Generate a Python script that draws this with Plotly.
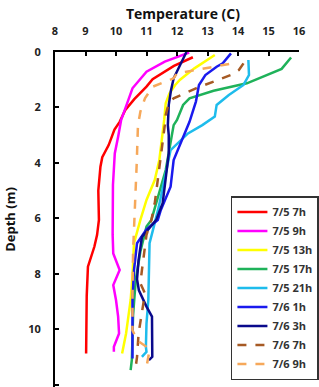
import plotly.graph_objects as go

names = ["7/5 7h", "7/5 9h", "7/5 13h", "7/5 17h", "7/5 21h", "7/6 1h", "7/6 3h", "7/6 7h", "7/6 9h"]

t_0705_07 = [12.52, 11.9, 11.2, 11.0, 10.6, 10.3, 10.12, 9.95, 9.76, 9.55, 9.49, 9.42, 9.44, 9.38, 9.29, 9.08, 9.04, 9.03, 9.02]
d_0705_07 = [0.19, 0.5, 0.98, 1.25, 1.7, 2.1, 2.52, 2.8, 3.36, 3.8, 4.14, 5.0, 6.06, 6.6, 7.03, 7.75, 8.8, 10.0, 10.88]

t_0705_09 = [12.4, 11.6, 11.0, 10.54, 10.35, 10.17, 10.07, 9.96, 9.9, 9.89, 9.89, 9.91, 10.12, 9.91, 10.0, 10.07, 10.1, 9.93, 9.93]
d_0705_09 = [0.02, 0.35, 0.71, 1.31, 1.9, 2.45, 3.06, 3.66, 4.8, 6.06, 6.6, 7.27, 7.87, 8.41, 8.95, 9.55, 10.16, 10.64, 10.82]

t_0705_13 = [13.24, 12.57, 12.1, 11.94, 11.75, 11.63, 11.58, 11.42, 11.27, 11.0, 10.8, 10.59, 10.54, 10.48, 10.33, 10.2]
d_0705_13 = [0.11, 0.59, 1.0, 1.19, 1.5, 1.85, 2.45, 3.9, 4.62, 5.34, 6.06, 6.9, 8.1, 8.95, 10.16, 10.88]

t_0705_17 = [15.74, 15.43, 14.29, 13.2, 12.41, 12.2, 12.0, 11.89, 11.63, 11.32, 11.16, 11.0, 10.8, 10.65, 10.56, 10.52, 10.48]
d_0705_17 = [0.2, 0.61, 1.13, 1.4, 1.67, 1.91, 2.45, 2.64, 4.26, 5.46, 6.06, 6.3, 7.2, 8.2, 9.5, 11.1, 11.48]

t_0705_21 = [14.34, 14.36, 14.18, 13.7, 13.3, 13.24, 12.83, 12.36, 11.79, 11.6, 11.4, 11.21, 11.1, 11.06, 11.0, 10.98, 11.0, 10.9, 10.85]
d_0705_21 = [0.29, 0.83, 1.19, 1.55, 1.91, 2.33, 2.64, 2.94, 3.54, 4.5, 5.6, 6.43, 6.9, 8.95, 9.8, 10.64, 10.82, 10.94, 11.0]

t_0706_01 = [13.77, 13.5, 13.3, 12.93, 12.72, 12.62, 12.41, 12.15, 11.89, 11.79, 11.47, 11.37, 11.0, 10.69, 10.59, 10.54, 10.54, 10.54]
d_0706_01 = [0.05, 0.41, 0.53, 0.83, 1.19, 1.79, 2.52, 3.18, 3.9, 4.86, 5.7, 6.06, 6.4, 6.9, 7.87, 8.95, 10.0, 11.06]

t_0706_03 = [12.31, 12.1, 11.89, 11.8, 11.73, 11.7, 11.73, 11.73, 11.63, 11.53, 11.32, 10.85, 10.74, 10.69, 10.75, 11.0, 11.18, 11.19, 11.19, 11.08]
d_0706_03 = [0.0, 0.47, 0.95, 1.4, 1.91, 2.64, 3.0, 3.66, 4.62, 5.46, 6.06, 6.67, 7.51, 8.2, 8.6, 9.19, 9.55, 10.2, 11.0, 11.12]

t_0706_07 = [14.18, 14.03, 13.77, 13.35, 12.62, 11.89, 11.73, 11.63, 11.6, 11.5, 11.27, 11.16, 11.0, 10.85, 10.8, 10.95, 10.85, 10.74, 10.69, 10.64]
d_0706_07 = [0.41, 0.65, 0.83, 1.01, 1.31, 1.67, 1.85, 2.27, 2.64, 3.5, 5.46, 6.06, 6.6, 7.87, 8.35, 8.71, 9.43, 10.16, 11.0, 11.42]

t_0706_09 = [13.71, 13.35, 12.62, 12.0, 11.89, 11.21, 10.95, 10.8, 10.72, 10.68, 10.59, 10.56, 10.54, 10.54, 10.54, 10.69, 11.0, 11.1, 11.04, 11.0]
d_0706_09 = [0.43, 0.51, 0.65, 0.77, 0.95, 1.25, 1.67, 2.15, 2.64, 4.0, 6.06, 7.2, 8.95, 9.43, 10.04, 10.4, 10.64, 10.76, 11.1, 11.36]

temps = [t_0705_07, t_0705_09, t_0705_13, t_0705_17, t_0705_21, t_0706_01, t_0706_03, t_0706_07, t_0706_09]
depths = [d_0705_07, d_0705_09, d_0705_13, d_0705_17, d_0705_21, d_0706_01, d_0706_03, d_0706_07, d_0706_09]
colors = ["#ff0000", "#ff00ff", "#ffff00", "#1fb25a", "#1ebcec", "#1a1aee", "#0a0a8c", "#a65a24", "#f6a85a"]
dashes = ["solid"] * 7 + ["dash", "dash"]

x_ticks = [8, 9, 10, 11, 12, 13, 14, 15, 16]
y_ticks = [0, 2, 4, 6, 8, 10, 12]

fig = go.Figure()
for n, t, d, c, ds in zip(names, temps, depths, colors, dashes):
    fig.add_trace(go.Scatter(x=t, y=d, name=n, mode="lines",
                             line=dict(color=c, width=2.5, dash=ds)))

font_b = dict(family="Open Sans", size=11, color="#222222", weight="bold")

fig.update_layout(
    width=319, height=387,
    margin=dict(l=55, r=8, t=52, b=0),
    paper_bgcolor="white", plot_bgcolor="white",
    title=dict(text="Temperature (C)", x=183 / 319, xanchor="center",
               y=1 - 14 / 387, yanchor="middle",
               font=dict(family="Open Sans", size=14, color="#111111", weight="bold")),
    xaxis=dict(side="top", range=[8, 16], tickvals=x_ticks, ticks="inside", ticklen=4,
               tickwidth=1.5, tickcolor="black", showline=True, linewidth=2,
               linecolor="black", showgrid=False, zeroline=False, tickfont=font_b,
               ticklabelstandoff=11),
    yaxis=dict(range=[12.09, 0], tickvals=y_ticks, ticks="inside", ticklen=4,
               tickwidth=1.5, tickcolor="black", showline=True, linewidth=2,
               linecolor="black", showgrid=False, zeroline=False, tickfont=font_b,
               ticklabelstandoff=10,
               title=dict(text="Depth (m)", standoff=10,
                          font=dict(family="Open Sans", size=13, color="#111111", weight="bold"))),
    legend=dict(x=230 / 319, xanchor="left", y=1 - (196 - 52) / 335, yanchor="top",
                bordercolor="#333333", borderwidth=1.5, bgcolor="white",
                font=dict(family="Open Sans", size=11, color="#333333", weight="bold"),
                tracegroupgap=0, itemwidth=30),
    showlegend=True,
)

fig.write_html("out.html")
